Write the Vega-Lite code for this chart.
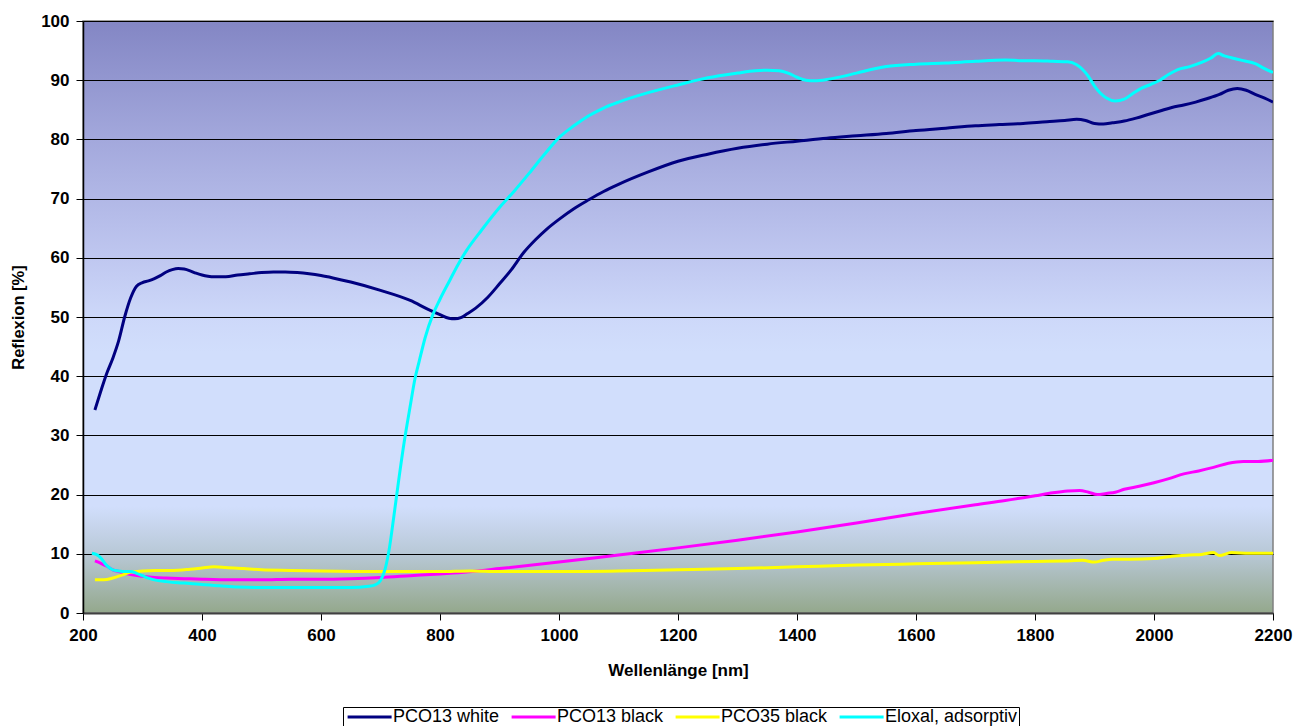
{
  "$schema": "https://vega.github.io/schema/vega-lite/v6.json",
  "width": 1190,
  "height": 592,
  "autosize": {"type": "none"},
  "padding": {"left": 83, "top": 21, "right": 33, "bottom": 113},
  "background": "white",
  "config": {
    "view": {
      "stroke": "#808080",
      "strokeWidth": 1.5,
      "fill": {
        "gradient": "linear", "x1": 0, "y1": 0, "x2": 0, "y2": 1,
        "stops": [
          {"offset": 0, "color": "#8386c4"},
          {"offset": 0.2, "color": "#a3a8dc"},
          {"offset": 0.4, "color": "#bfc7f0"},
          {"offset": 0.5, "color": "#cdd8f9"},
          {"offset": 0.56, "color": "#d1defc"},
          {"offset": 0.82, "color": "#d1defc"},
          {"offset": 0.9, "color": "#b8c8d6"},
          {"offset": 1, "color": "#94a88c"}
        ]
      }
    }
  },
  "data": {
    "values": [
      {"s":"PCO13 white","nm":220,"r":34.3},{"s":"PCO13 white","nm":230,"r":37.5},{"s":"PCO13 white","nm":240,"r":40.5},{"s":"PCO13 white","nm":250,"r":43},{"s":"PCO13 white","nm":260,"r":46},{"s":"PCO13 white","nm":270,"r":50},{"s":"PCO13 white","nm":280,"r":53.2},{"s":"PCO13 white","nm":290,"r":55.2},{"s":"PCO13 white","nm":300,"r":55.8},{"s":"PCO13 white","nm":310,"r":56.1},{"s":"PCO13 white","nm":320,"r":56.5},{"s":"PCO13 white","nm":330,"r":57},{"s":"PCO13 white","nm":340,"r":57.6},{"s":"PCO13 white","nm":350,"r":58},{"s":"PCO13 white","nm":360,"r":58.2},{"s":"PCO13 white","nm":370,"r":58.1},{"s":"PCO13 white","nm":380,"r":57.8},{"s":"PCO13 white","nm":390,"r":57.4},{"s":"PCO13 white","nm":400,"r":57.1},{"s":"PCO13 white","nm":410,"r":56.9},{"s":"PCO13 white","nm":420,"r":56.8},{"s":"PCO13 white","nm":440,"r":56.8},{"s":"PCO13 white","nm":460,"r":57.1},{"s":"PCO13 white","nm":480,"r":57.3},{"s":"PCO13 white","nm":500,"r":57.5},{"s":"PCO13 white","nm":520,"r":57.6},{"s":"PCO13 white","nm":540,"r":57.6},{"s":"PCO13 white","nm":560,"r":57.5},{"s":"PCO13 white","nm":580,"r":57.3},{"s":"PCO13 white","nm":600,"r":57},{"s":"PCO13 white","nm":620,"r":56.6},{"s":"PCO13 white","nm":650,"r":55.9},{"s":"PCO13 white","nm":700,"r":54.5},{"s":"PCO13 white","nm":750,"r":52.8},{"s":"PCO13 white","nm":780,"r":51.3},{"s":"PCO13 white","nm":800,"r":50.4},{"s":"PCO13 white","nm":815,"r":49.8},{"s":"PCO13 white","nm":825,"r":49.7},{"s":"PCO13 white","nm":835,"r":49.9},{"s":"PCO13 white","nm":845,"r":50.5},{"s":"PCO13 white","nm":860,"r":51.5},{"s":"PCO13 white","nm":880,"r":53.3},{"s":"PCO13 white","nm":900,"r":55.6},{"s":"PCO13 white","nm":920,"r":58},{"s":"PCO13 white","nm":940,"r":60.8},{"s":"PCO13 white","nm":960,"r":63},{"s":"PCO13 white","nm":980,"r":64.9},{"s":"PCO13 white","nm":1000,"r":66.5},{"s":"PCO13 white","nm":1025,"r":68.3},{"s":"PCO13 white","nm":1050,"r":69.8},{"s":"PCO13 white","nm":1075,"r":71.2},{"s":"PCO13 white","nm":1100,"r":72.4},{"s":"PCO13 white","nm":1150,"r":74.5},{"s":"PCO13 white","nm":1200,"r":76.3},{"s":"PCO13 white","nm":1250,"r":77.5},{"s":"PCO13 white","nm":1300,"r":78.5},{"s":"PCO13 white","nm":1350,"r":79.2},{"s":"PCO13 white","nm":1400,"r":79.7},{"s":"PCO13 white","nm":1450,"r":80.2},{"s":"PCO13 white","nm":1500,"r":80.6},{"s":"PCO13 white","nm":1550,"r":81.0},{"s":"PCO13 white","nm":1600,"r":81.5},{"s":"PCO13 white","nm":1650,"r":81.9},{"s":"PCO13 white","nm":1700,"r":82.3},{"s":"PCO13 white","nm":1740,"r":82.5},{"s":"PCO13 white","nm":1780,"r":82.7},{"s":"PCO13 white","nm":1820,"r":83},{"s":"PCO13 white","nm":1850,"r":83.2},{"s":"PCO13 white","nm":1870,"r":83.4},{"s":"PCO13 white","nm":1885,"r":83.2},{"s":"PCO13 white","nm":1900,"r":82.7},{"s":"PCO13 white","nm":1915,"r":82.6},{"s":"PCO13 white","nm":1930,"r":82.8},{"s":"PCO13 white","nm":1950,"r":83.1},{"s":"PCO13 white","nm":1970,"r":83.6},{"s":"PCO13 white","nm":1990,"r":84.2},{"s":"PCO13 white","nm":2010,"r":84.8},{"s":"PCO13 white","nm":2030,"r":85.4},{"s":"PCO13 white","nm":2050,"r":85.8},{"s":"PCO13 white","nm":2070,"r":86.3},{"s":"PCO13 white","nm":2090,"r":86.9},{"s":"PCO13 white","nm":2110,"r":87.6},{"s":"PCO13 white","nm":2125,"r":88.3},{"s":"PCO13 white","nm":2140,"r":88.6},{"s":"PCO13 white","nm":2155,"r":88.3},{"s":"PCO13 white","nm":2170,"r":87.6},{"s":"PCO13 white","nm":2185,"r":87},{"s":"PCO13 white","nm":2200,"r":86.3},

      {"s":"PCO13 black","nm":220,"r":8.8},{"s":"PCO13 black","nm":230,"r":8.4},{"s":"PCO13 black","nm":240,"r":7.9},{"s":"PCO13 black","nm":250,"r":7.3},{"s":"PCO13 black","nm":260,"r":7.0},{"s":"PCO13 black","nm":270,"r":6.7},{"s":"PCO13 black","nm":285,"r":6.4},{"s":"PCO13 black","nm":300,"r":6.2},{"s":"PCO13 black","nm":320,"r":6.0},{"s":"PCO13 black","nm":340,"r":5.9},{"s":"PCO13 black","nm":370,"r":5.8},{"s":"PCO13 black","nm":400,"r":5.7},{"s":"PCO13 black","nm":450,"r":5.6},{"s":"PCO13 black","nm":500,"r":5.6},{"s":"PCO13 black","nm":550,"r":5.7},{"s":"PCO13 black","nm":600,"r":5.7},{"s":"PCO13 black","nm":650,"r":5.8},{"s":"PCO13 black","nm":700,"r":6.0},{"s":"PCO13 black","nm":750,"r":6.3},{"s":"PCO13 black","nm":800,"r":6.6},{"s":"PCO13 black","nm":840,"r":6.9},{"s":"PCO13 black","nm":900,"r":7.5},{"s":"PCO13 black","nm":1000,"r":8.6},{"s":"PCO13 black","nm":1100,"r":9.8},{"s":"PCO13 black","nm":1200,"r":11.0},{"s":"PCO13 black","nm":1300,"r":12.3},{"s":"PCO13 black","nm":1400,"r":13.7},{"s":"PCO13 black","nm":1500,"r":15.2},{"s":"PCO13 black","nm":1600,"r":16.8},{"s":"PCO13 black","nm":1700,"r":18.3},{"s":"PCO13 black","nm":1750,"r":19.0},{"s":"PCO13 black","nm":1800,"r":19.8},{"s":"PCO13 black","nm":1830,"r":20.3},{"s":"PCO13 black","nm":1855,"r":20.6},{"s":"PCO13 black","nm":1875,"r":20.7},{"s":"PCO13 black","nm":1890,"r":20.4},{"s":"PCO13 black","nm":1905,"r":20.0},{"s":"PCO13 black","nm":1920,"r":20.2},{"s":"PCO13 black","nm":1935,"r":20.4},{"s":"PCO13 black","nm":1950,"r":20.9},{"s":"PCO13 black","nm":1975,"r":21.4},{"s":"PCO13 black","nm":2000,"r":22.0},{"s":"PCO13 black","nm":2025,"r":22.7},{"s":"PCO13 black","nm":2050,"r":23.5},{"s":"PCO13 black","nm":2075,"r":24.0},{"s":"PCO13 black","nm":2100,"r":24.6},{"s":"PCO13 black","nm":2125,"r":25.3},{"s":"PCO13 black","nm":2150,"r":25.6},{"s":"PCO13 black","nm":2175,"r":25.6},{"s":"PCO13 black","nm":2200,"r":25.8},

      {"s":"PCO35 black","nm":220,"r":5.6},{"s":"PCO35 black","nm":235,"r":5.6},{"s":"PCO35 black","nm":250,"r":5.9},{"s":"PCO35 black","nm":265,"r":6.4},{"s":"PCO35 black","nm":280,"r":6.9},{"s":"PCO35 black","nm":300,"r":7.1},{"s":"PCO35 black","nm":320,"r":7.2},{"s":"PCO35 black","nm":350,"r":7.2},{"s":"PCO35 black","nm":380,"r":7.4},{"s":"PCO35 black","nm":400,"r":7.6},{"s":"PCO35 black","nm":420,"r":7.8},{"s":"PCO35 black","nm":440,"r":7.7},{"s":"PCO35 black","nm":470,"r":7.5},{"s":"PCO35 black","nm":500,"r":7.3},{"s":"PCO35 black","nm":550,"r":7.2},{"s":"PCO35 black","nm":600,"r":7.1},{"s":"PCO35 black","nm":700,"r":7.0},{"s":"PCO35 black","nm":800,"r":7.0},{"s":"PCO35 black","nm":850,"r":7.1},{"s":"PCO35 black","nm":900,"r":7.0},{"s":"PCO35 black","nm":1000,"r":7.0},{"s":"PCO35 black","nm":1100,"r":7.1},{"s":"PCO35 black","nm":1200,"r":7.3},{"s":"PCO35 black","nm":1300,"r":7.5},{"s":"PCO35 black","nm":1400,"r":7.8},{"s":"PCO35 black","nm":1500,"r":8.1},{"s":"PCO35 black","nm":1600,"r":8.3},{"s":"PCO35 black","nm":1700,"r":8.5},{"s":"PCO35 black","nm":1800,"r":8.7},{"s":"PCO35 black","nm":1850,"r":8.8},{"s":"PCO35 black","nm":1880,"r":8.9},{"s":"PCO35 black","nm":1900,"r":8.6},{"s":"PCO35 black","nm":1915,"r":8.9},{"s":"PCO35 black","nm":1930,"r":9.1},{"s":"PCO35 black","nm":1960,"r":9.1},{"s":"PCO35 black","nm":2000,"r":9.2},{"s":"PCO35 black","nm":2030,"r":9.6},{"s":"PCO35 black","nm":2060,"r":9.8},{"s":"PCO35 black","nm":2080,"r":9.9},{"s":"PCO35 black","nm":2100,"r":10.2},{"s":"PCO35 black","nm":2110,"r":9.7},{"s":"PCO35 black","nm":2130,"r":10.2},{"s":"PCO35 black","nm":2160,"r":10.1},{"s":"PCO35 black","nm":2200,"r":10.1},

      {"s":"Eloxal, adsorptiv","nm":215,"r":10.1},{"s":"Eloxal, adsorptiv","nm":222,"r":9.9},{"s":"Eloxal, adsorptiv","nm":230,"r":9.3},{"s":"Eloxal, adsorptiv","nm":240,"r":8.0},{"s":"Eloxal, adsorptiv","nm":250,"r":7.3},{"s":"Eloxal, adsorptiv","nm":260,"r":7.1},{"s":"Eloxal, adsorptiv","nm":270,"r":7.0},{"s":"Eloxal, adsorptiv","nm":280,"r":7.0},{"s":"Eloxal, adsorptiv","nm":290,"r":6.7},{"s":"Eloxal, adsorptiv","nm":300,"r":6.3},{"s":"Eloxal, adsorptiv","nm":310,"r":5.9},{"s":"Eloxal, adsorptiv","nm":320,"r":5.6},{"s":"Eloxal, adsorptiv","nm":340,"r":5.3},{"s":"Eloxal, adsorptiv","nm":360,"r":5.1},{"s":"Eloxal, adsorptiv","nm":380,"r":5.0},{"s":"Eloxal, adsorptiv","nm":400,"r":4.8},{"s":"Eloxal, adsorptiv","nm":430,"r":4.6},{"s":"Eloxal, adsorptiv","nm":460,"r":4.4},{"s":"Eloxal, adsorptiv","nm":500,"r":4.3},{"s":"Eloxal, adsorptiv","nm":550,"r":4.3},{"s":"Eloxal, adsorptiv","nm":600,"r":4.3},{"s":"Eloxal, adsorptiv","nm":650,"r":4.3},{"s":"Eloxal, adsorptiv","nm":680,"r":4.5},{"s":"Eloxal, adsorptiv","nm":692,"r":4.8},{"s":"Eloxal, adsorptiv","nm":700,"r":5.5},{"s":"Eloxal, adsorptiv","nm":708,"r":7.5},{"s":"Eloxal, adsorptiv","nm":715,"r":11},{"s":"Eloxal, adsorptiv","nm":722,"r":16},{"s":"Eloxal, adsorptiv","nm":730,"r":22},{"s":"Eloxal, adsorptiv","nm":740,"r":29},{"s":"Eloxal, adsorptiv","nm":750,"r":35},{"s":"Eloxal, adsorptiv","nm":758,"r":39.6},{"s":"Eloxal, adsorptiv","nm":765,"r":42.5},{"s":"Eloxal, adsorptiv","nm":775,"r":46.5},{"s":"Eloxal, adsorptiv","nm":788,"r":50.4},{"s":"Eloxal, adsorptiv","nm":800,"r":53},{"s":"Eloxal, adsorptiv","nm":817,"r":56.3},{"s":"Eloxal, adsorptiv","nm":830,"r":58.8},{"s":"Eloxal, adsorptiv","nm":845,"r":61.3},{"s":"Eloxal, adsorptiv","nm":870,"r":64.7},{"s":"Eloxal, adsorptiv","nm":900,"r":68.5},{"s":"Eloxal, adsorptiv","nm":925,"r":71.3},{"s":"Eloxal, adsorptiv","nm":950,"r":74.3},{"s":"Eloxal, adsorptiv","nm":975,"r":77.4},{"s":"Eloxal, adsorptiv","nm":1000,"r":80.3},{"s":"Eloxal, adsorptiv","nm":1025,"r":82.3},{"s":"Eloxal, adsorptiv","nm":1050,"r":84},{"s":"Eloxal, adsorptiv","nm":1075,"r":85.3},{"s":"Eloxal, adsorptiv","nm":1100,"r":86.3},{"s":"Eloxal, adsorptiv","nm":1150,"r":87.9},{"s":"Eloxal, adsorptiv","nm":1200,"r":89.2},{"s":"Eloxal, adsorptiv","nm":1250,"r":90.4},{"s":"Eloxal, adsorptiv","nm":1300,"r":91.2},{"s":"Eloxal, adsorptiv","nm":1330,"r":91.6},{"s":"Eloxal, adsorptiv","nm":1350,"r":91.7},{"s":"Eloxal, adsorptiv","nm":1370,"r":91.6},{"s":"Eloxal, adsorptiv","nm":1385,"r":91.2},{"s":"Eloxal, adsorptiv","nm":1400,"r":90.5},{"s":"Eloxal, adsorptiv","nm":1415,"r":90},{"s":"Eloxal, adsorptiv","nm":1430,"r":89.9},{"s":"Eloxal, adsorptiv","nm":1450,"r":90.1},{"s":"Eloxal, adsorptiv","nm":1475,"r":90.6},{"s":"Eloxal, adsorptiv","nm":1500,"r":91.2},{"s":"Eloxal, adsorptiv","nm":1550,"r":92.3},{"s":"Eloxal, adsorptiv","nm":1600,"r":92.7},{"s":"Eloxal, adsorptiv","nm":1650,"r":92.9},{"s":"Eloxal, adsorptiv","nm":1700,"r":93.2},{"s":"Eloxal, adsorptiv","nm":1750,"r":93.4},{"s":"Eloxal, adsorptiv","nm":1780,"r":93.3},{"s":"Eloxal, adsorptiv","nm":1800,"r":93.3},{"s":"Eloxal, adsorptiv","nm":1830,"r":93.2},{"s":"Eloxal, adsorptiv","nm":1855,"r":93.1},{"s":"Eloxal, adsorptiv","nm":1870,"r":92.6},{"s":"Eloxal, adsorptiv","nm":1880,"r":91.8},{"s":"Eloxal, adsorptiv","nm":1890,"r":90.6},{"s":"Eloxal, adsorptiv","nm":1900,"r":89},{"s":"Eloxal, adsorptiv","nm":1910,"r":87.8},{"s":"Eloxal, adsorptiv","nm":1920,"r":87},{"s":"Eloxal, adsorptiv","nm":1935,"r":86.5},{"s":"Eloxal, adsorptiv","nm":1950,"r":86.8},{"s":"Eloxal, adsorptiv","nm":1965,"r":87.8},{"s":"Eloxal, adsorptiv","nm":1980,"r":88.7},{"s":"Eloxal, adsorptiv","nm":1995,"r":89.3},{"s":"Eloxal, adsorptiv","nm":2010,"r":90},{"s":"Eloxal, adsorptiv","nm":2025,"r":91},{"s":"Eloxal, adsorptiv","nm":2040,"r":91.8},{"s":"Eloxal, adsorptiv","nm":2060,"r":92.3},{"s":"Eloxal, adsorptiv","nm":2080,"r":93},{"s":"Eloxal, adsorptiv","nm":2095,"r":93.7},{"s":"Eloxal, adsorptiv","nm":2108,"r":94.5},{"s":"Eloxal, adsorptiv","nm":2118,"r":94.1},{"s":"Eloxal, adsorptiv","nm":2130,"r":93.8},{"s":"Eloxal, adsorptiv","nm":2150,"r":93.3},{"s":"Eloxal, adsorptiv","nm":2170,"r":92.8},{"s":"Eloxal, adsorptiv","nm":2185,"r":92},{"s":"Eloxal, adsorptiv","nm":2200,"r":91.3}
    ]
  },
  "mark": {"type": "line", "strokeWidth": 3, "interpolate": "monotone", "clip": true},
  "encoding": {
    "x": {
      "field": "nm", "type": "quantitative",
      "scale": {"domain": [200, 2200], "nice": false, "zero": false},
      "axis": {
        "values": [200,400,600,800,1000,1200,1400,1600,1800,2000,2200],
        "format": "d",
        "grid": false,
        "title": "Wellenlänge [nm]",
        "titleFont": "Liberation Sans", "titleFontSize": 17, "titleFontWeight": "bold", "titleColor": "black",
        "titleBaseline": "middle", "titleY": 57,
        "labelFont": "Liberation Sans", "labelFontSize": 17, "labelFontWeight": "bold", "labelColor": "black",
        "labelPadding": 7, "labelFlush": false,
        "tickSize": 7, "tickColor": "black", "tickWidth": 1,
        "domainColor": "#404040", "domainWidth": 2
      }
    },
    "y": {
      "field": "r", "type": "quantitative",
      "scale": {"domain": [0, 100], "nice": false},
      "axis": {
        "values": [0,10,20,30,40,50,60,70,80,90,100],
        "format": "d",
        "grid": true, "gridColor": "black", "gridWidth": 1, "gridOpacity": 1,
        "title": "Reflexion [%]",
        "titleFont": "Liberation Sans", "titleFontSize": 16.5, "titleFontWeight": "bold", "titleColor": "black",
        "titleBaseline": "middle", "titleX": -65, "titleY": 296,
        "labelFont": "Liberation Sans", "labelFontSize": 17, "labelFontWeight": "bold", "labelColor": "black",
        "labelPadding": 7, "labelFlush": false,
        "tickSize": 7, "tickColor": "black", "tickWidth": 1,
        "domainColor": "black", "domainWidth": 1.5
      }
    },
    "color": {
      "field": "s", "type": "nominal",
      "sort": ["PCO13 white","PCO13 black","PCO35 black","Eloxal, adsorptiv"],
      "scale": {
        "domain": ["PCO13 white","PCO13 black","PCO35 black","Eloxal, adsorptiv"],
        "range": ["#000080","#ff00ff","#ffff00","#00ffff"]
      },
      "legend": {
        "title": null,
        "orient": "none", "legendX": 260, "legendY": 686,
        "direction": "horizontal", "columns": 4,
        "symbolType": "M-1.23,0H8.8", "symbolSize": 77, "symbolStrokeWidth": 3,
        "labelFont": "Liberation Sans", "labelFontSize": 18, "labelColor": "black",
        "labelOffset": 31, "columnPadding": 5,
        "strokeColor": "black", "fillColor": "white", "padding": 1
      }
    }
  }
}
